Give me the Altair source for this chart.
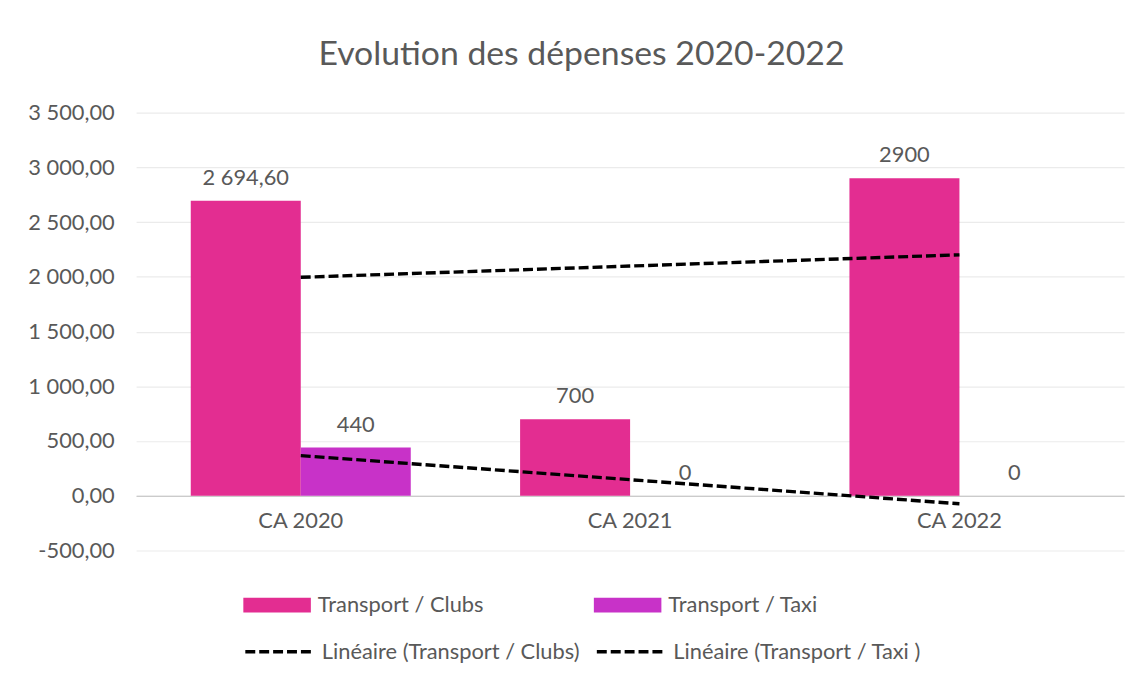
import json
import altair as alt
import pandas as pd

# ---- data ----
categories = ["CA 2020", "CA 2021", "CA 2022"]
series_names = ["Transport / Clubs", "Transport / Taxi"]
trend_names = ["Linéaire (Transport / Clubs)", "Linéaire (Transport / Taxi )"]
clubs_values = [2694.60, 700, 2900]
taxi_values = [440, 0, 0]
clubs_labels = ["2 694,60", "700", "2900"]
taxi_labels = ["440", "0", "0"]
y_ticks = [-500, 0, 500, 1000, 1500, 2000, 2500, 3000, 3500]

colors = ["#E32D91", "#C832C8"]
FONT = "Lato"
TXT = "#595959"
FS = 22

rows = []
for s, t, vals, labs in zip(series_names, trend_names,
                            [clubs_values, taxi_values],
                            [clubs_labels, taxi_labels]):
    for i, (c, v, l) in enumerate(zip(categories, vals, labs)):
        rows.append(dict(category=c, idx=i, series=s, trend=t, value=v, label=l))
df = pd.DataFrame(rows)

x_enc = alt.X(
    "category:N",
    sort=categories,
    title=None,
    scale=alt.Scale(paddingInner=0.332, paddingOuter=0.166),
    axis=alt.Axis(
        orient="bottom", offset=-55.125, domain=True, domainColor="#BFBFBF",
        domainWidth=1, ticks=False, grid=False, labelFont=FONT,
        labelFontSize=FS, labelColor=TXT, labelPadding=15, labelAngle=0,
    ),
)
y_enc = alt.Y(
    "value:Q",
    title=None,
    scale=alt.Scale(domain=[-500, 3500], nice=False, zero=False),
    axis=alt.Axis(
        values=y_ticks, domain=False, ticks=False, grid=True,
        gridColor="#EBEBEB", gridWidth=1.2, labelFont=FONT, labelFontSize=FS,
        labelColor=TXT, labelPadding=22,
        labelExpr="replace(replace(replace(format(datum.value, ',.2f'), ',', ' '), '.', ','), '\u2212', '-')",
    ),
)
xoff = alt.XOffset("series:N", sort=series_names,
                   scale=alt.Scale(paddingInner=0, paddingOuter=0))

base = alt.Chart(df)

bars = base.mark_bar().encode(
    x=x_enc,
    xOffset=xoff,
    y=y_enc,
    color=alt.Color(
        "series:N",
        scale=alt.Scale(domain=series_names, range=colors),
        legend=alt.Legend(
            title=None, orient="none", direction="horizontal",
            legendX=108, legendY=462, padding=0,
            symbolType="M-1,-0.22H1V0.22H-1Z", symbolSize=4624,
            symbolStrokeWidth=0, symbolOpacity=1,
            labelFont=FONT, labelFontSize=FS, labelColor=TXT, labelOffset=7,
            columnPadding=110, labelLimit=400,
        ),
    ),
)

labels = base.mark_text(
    baseline="bottom", dy=-11, font=FONT, fontSize=FS, color=TXT
).encode(
    x=x_enc,
    xOffset=xoff,
    y=y_enc,
    text="label:N",
)

trend = (
    base.transform_regression("idx", "value", groupby=["series", "trend"])
    .transform_calculate(category=f"{json.dumps(categories)}[round(datum.idx)]")
    .mark_line(color="black", strokeWidth=3.4)
    .encode(
        x=x_enc,
        y=y_enc,
        strokeDash=alt.StrokeDash(
            "trend:N",
            scale=alt.Scale(domain=trend_names, range=[[10, 4], [10, 4]]),
            legend=alt.Legend(
                title=None, orient="none", direction="horizontal",
                legendX=108, legendY=507, padding=0,
                symbolType="stroke", symbolSize=4624, symbolStrokeWidth=3.4,
                symbolStrokeColor="black",
                labelFont=FONT, labelFontSize=FS, labelColor=TXT, labelOffset=7,
                columnPadding=10, labelLimit=400,
            ),
        ),
    )
)

chart = (
    alt.layer(bars, trend, labels)
    .properties(
        width=995,
        height=441,
        autosize=alt.AutoSizeParams(type="none"),
        padding={"left": 129, "top": 103, "right": 15, "bottom": 116},
        background="white",
        title=alt.TitleParams(
            "Evolution des dépenses 2020-2022",
            font=FONT, fontSize=34, fontWeight="normal", color=TXT,
            anchor="middle", offset=30, dx=-49,
        ),
    )
    .configure_view(stroke=None)
)

chart.save("out.html", embed_options={"renderer": "svg", "actions": False})
